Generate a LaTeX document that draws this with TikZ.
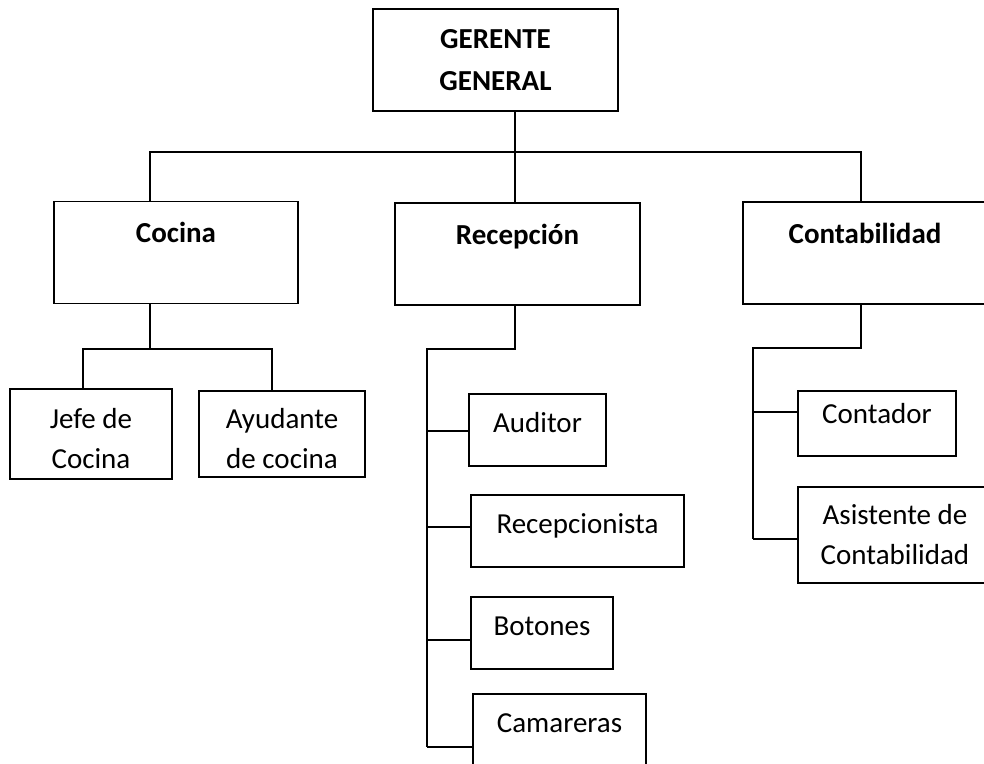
\documentclass[tikz,border=0pt]{standalone}
\usepackage{fontspec}
\setmainfont{Carlito}
\usepackage{tikz}
\usetikzlibrary{positioning}

\begin{document}
\begin{tikzpicture}[
  x=0.75pt, y=-0.75pt, line width=1.3pt,
  box/.style = {rectangle, draw, inner sep=0pt, align=center,
                font=\fontsize{21.75}{30}\selectfont},
  dept/.style = {box, minimum width=183.5pt, minimum height=76.5pt,
                 font=\fontsize{21.75}{30}\selectfont\bfseries,
                 text height=7.5pt, text depth=22pt},
  role/.style = {box, minimum height=54pt,
                 text height=7.5pt, text depth=3.8pt},
  low/.style  = {box, text height=52pt, text depth=0pt}
]
  \useasboundingbox (0,0) rectangle (984,763);

  \node[box, minimum width=183.75pt, minimum height=76.5pt,
        font=\fontsize{21.75}{31.5}\selectfont\bfseries] (gerente) at (495.5,60) {GERENTE\\GENERAL};
  \node[dept] (cocina)    at (176,252.5) {Cocina};
  \node[dept] (recepcion) at (517.5,254) {Recepción};
  \node[dept] (contab)    at (865,253)   {Contabilidad};

  \node[low, minimum width=121.5pt, minimum height=67.5pt] (jefe)     at (91,434)  {Jefe de\\Cocina};
  \node[low, minimum width=124.5pt, minimum height=64.5pt] (ayudante) at (282,434) {Ayudante\\de cocina};

  \node[role, minimum width=102.75pt] (auditor)       at (537.5,430) {Auditor};
  \node[role, minimum width=159.75pt] (recepcionista) at (577.5,531) {Recepcionista};
  \node[role, minimum width=106.5pt]  (botones)       at (542,633)   {Botones};
  \node[role, minimum width=129.75pt] (camareras)     at (559.5,730) {Camareras};

  \node[role, minimum width=118.5pt, minimum height=48.75pt, text depth=8pt] (contador) at (877,423.5) {Contador};
  \node[box, minimum width=145.5pt, minimum height=72pt] (asistente) at (895,535) {Asistente de\\Contabilidad};

  \coordinate (busL) at (150,152);
  \coordinate (busM) at (515,152);
  \coordinate (busR) at (861,152);
  \draw (gerente.south -| busM) -- (busM);
  \draw (busL |- cocina.north) -- (busL) -- (busR) -- (busR |- contab.north);
  \draw (busM) -- (busM |- recepcion.north);

  \coordinate (cocM) at (150,349);
  \coordinate (cocL) at (83,349);
  \coordinate (cocR) at (272,349);
  \draw (cocina.south -| cocM) -- (cocM);
  \draw (cocL |- jefe.north) -- (cocL) -- (cocR) -- (cocR |- ayudante.north);

  \coordinate (recM) at (515,349);
  \coordinate (recL) at (427,349);
  \coordinate (recB) at (427,747);
  \draw (recepcion.south -| recM) -- (recM) -- (recL) -- (recB);
  \foreach \n/\y in {auditor/431, recepcionista/527, botones/640, camareras/747} {
    \coordinate (r-\n) at (427,\y);
    \draw (r-\n) -- (r-\n -| \n.west);
  }

  \coordinate (conM) at (861,348);
  \coordinate (conL) at (753,348);
  \coordinate (conB) at (753,539);
  \draw (contab.south -| conM) -- (conM) -- (conL) -- (conB);
  \foreach \n/\y in {contador/412, asistente/539} {
    \coordinate (c-\n) at (753,\y);
    \draw (c-\n) -- (c-\n -| \n.west);
  }
\end{tikzpicture}
\end{document}
